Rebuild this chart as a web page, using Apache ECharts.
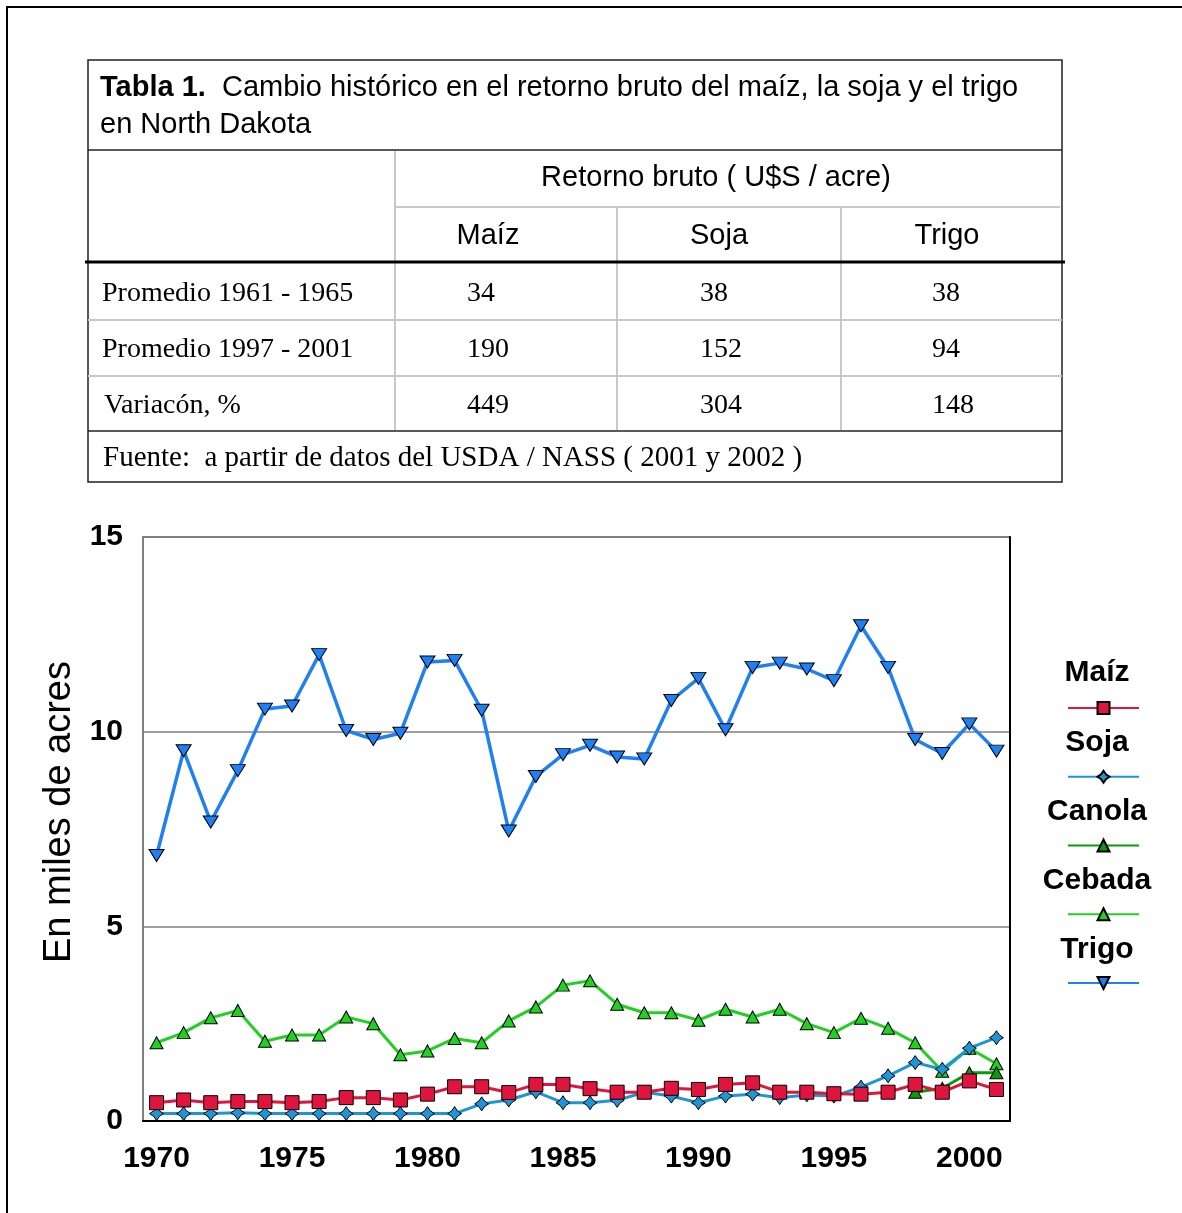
<!DOCTYPE html>
<html>
<head>
<meta charset="utf-8">
<script src="https://cdn.jsdelivr.net/npm/echarts@6/dist/echarts.min.js"></script>
<style>
html, body { margin: 0; padding: 0; background: #fff; }
#main { width: 1182px; height: 1213px; }
</style>
</head>
<body>
<div id="main"></div>
<script>
// ---------------- datos de la tabla ----------------
var tableBold = 'Tabla 1.';
var tableTitle = ['Cambio histórico en el retorno bruto del maíz, la soja y el trigo', 'en North Dakota'];
var tableGroup = 'Retorno bruto ( U$S / acre)';
var tableCols = ['Maíz', 'Soja', 'Trigo'];
var tableRows = ['Promedio 1961 - 1965', 'Promedio 1997 - 2001', 'Variacón, %'];
var tableValues = [
	[34, 38, 38],
	[190, 152, 94],
	[449, 304, 148]
];
var tableSource = 'Fuente:  a partir de datos del USDA / NASS ( 2001 y 2002 )';

// ---------------- datos del gráfico ----------------
var years = ['1970', '1971', '1972', '1973', '1974', '1975', '1976', '1977', '1978', '1979',
	'1980', '1981', '1982', '1983', '1984', '1985', '1986', '1987', '1988', '1989',
	'1990', '1991', '1992', '1993', '1994', '1995', '1996', '1997', '1998', '1999',
	'2000', '2001'];
var maiz = [0.47, 0.54, 0.47, 0.50, 0.50, 0.47, 0.50, 0.60, 0.60, 0.54,
	0.69, 0.88, 0.88, 0.73, 0.94, 0.94, 0.83, 0.74, 0.74, 0.84,
	0.81, 0.94, 0.98, 0.74, 0.74, 0.70, 0.69, 0.74, 0.94, 0.74,
	1.03, 0.81];
var soja = [0.19, 0.19, 0.19, 0.21, 0.19, 0.19, 0.19, 0.19, 0.19, 0.19,
	0.19, 0.19, 0.44, 0.54, 0.75, 0.47, 0.47, 0.53, 0.74, 0.64,
	0.47, 0.64, 0.69, 0.60, 0.67, 0.64, 0.87, 1.16, 1.50, 1.33,
	1.87, 2.14];
var canola = [null, null, null, null, null, null, null, null, null, null,
	null, null, null, null, null, null, null, null, null, null,
	null, null, null, null, null, null, null, null, 0.74, 0.84,
	1.24, 1.24];
var cebada = [2.01, 2.27, 2.65, 2.84, 2.05, 2.21, 2.21, 2.67, 2.50, 1.70,
	1.80, 2.12, 2.01, 2.57, 2.93, 3.49, 3.60, 3.00, 2.78, 2.78,
	2.59, 2.87, 2.67, 2.87, 2.50, 2.27, 2.64, 2.38, 2.01, 1.28,
	1.87, 1.47];
var trigo = [6.82, 9.51, 7.68, 9.00, 10.58, 10.66, 11.98, 10.03, 9.80, 9.96,
	11.79, 11.83, 10.55, 7.45, 8.85, 9.41, 9.65, 9.35, 9.30, 10.80,
	11.37, 10.05, 11.65, 11.76, 11.61, 11.31, 12.72, 11.65, 9.80, 9.44,
	10.20, 9.50];
var seriesNames = ['Maíz', 'Soja', 'Canola', 'Cebada', 'Trigo'];
var yTitle = 'En miles de acres';

// ---------------- estilos ----------------
var SANS = '"Liberation Sans", Arial, sans-serif';
var SERIF = '"Liberation Serif", "Times New Roman", serif';
var seriesData = [maiz, soja, canola, cebada, trigo];
var seriesColors = ['#E0153D', '#1D95D6', '#0A9A0A', '#22D022', '#1E80F2'];
var starPath = 'path://M0,-10 L4,-4 L10,0 L4,4 L0,10 L-4,4 L-10,0 L-4,-4 Z';
var seriesSymbols = ['rect', starPath, 'triangle', 'triangle', 'triangle'];
var seriesSymbolSize = [14, 14, [13, 12], [13, 12], [15, 12]];
var seriesRotate = [0, 0, 0, 0, 180];
var seriesWidth = [3, 3, 3, 3, 3.5];

var myChart = echarts.init(document.getElementById('main'));

// ---------------- tabla (graphic) ----------------
var g = [];
function addLine(x1, y1, x2, y2, color, w) {
	g.push({ type: 'line', silent: true, shape: { x1: x1, y1: y1, x2: x2, y2: y2 }, style: { stroke: color, lineWidth: w } });
}
function addText(x, y, str, font, align, extra) {
	var st = { text: str, font: font, fill: '#000', align: align || 'left', textAlign: align || 'left', verticalAlign: 'middle', textVerticalAlign: 'middle' };
	if (extra) { for (var k in extra) st[k] = extra[k]; }
	g.push({ type: 'text', silent: true, x: x, y: y, style: st });
}

// marco exterior de la figura
g.push({ type: 'rect', silent: true, shape: { x: 7, y: 7, width: 1200, height: 1230 }, style: { fill: 'none', stroke: '#000', lineWidth: 2 } });

var tx0 = 88, tx1 = 1062;
var colLines = [395, 617, 841];
var colHeadX = [488, 719, 947];
var colValX = [467, 700, 932];
var rowY = [294, 350, 406];

// bordes y líneas de la tabla
g.push({ type: 'rect', silent: true, shape: { x: tx0, y: 60, width: tx1 - tx0, height: 422 }, style: { fill: 'none', stroke: '#222', lineWidth: 1.5 } });
addLine(tx0, 150, tx1, 150, '#222', 1.5);
addLine(colLines[0], 207, tx1 - 2, 207, '#c8c8c8', 2);
addLine(colLines[0], 151, colLines[0], 430, '#c8c8c8', 2);
addLine(colLines[1], 207, colLines[1], 430, '#c8c8c8', 2);
addLine(colLines[2], 207, colLines[2], 430, '#c8c8c8', 2);
addLine(85, 262, 1065, 262, '#000', 3);
addLine(tx0, 320, tx1, 320, '#c8c8c8', 2);
addLine(tx0, 376, tx1, 376, '#c8c8c8', 2);
addLine(tx0, 431, tx1, 431, '#222', 1.5);

// textos de la tabla
addText(100, 88, '{b|' + tableBold + '}  ' + tableTitle[0], '29px ' + SANS, 'left', { rich: { b: { font: 'bold 29px ' + SANS, fill: '#000' } } });
addText(100, 125, tableTitle[1], '29px ' + SANS);
addText(716, 178, tableGroup, '29px ' + SANS, 'center');
tableCols.forEach(function (c, i) { addText(colHeadX[i], 236, c, '29px ' + SANS, 'center'); });
tableRows.forEach(function (r, i) {
	addText(i === 2 ? 104 : 102, rowY[i], r, '28px ' + SERIF);
	tableValues[i].forEach(function (v, j) { addText(colValX[j], rowY[i], String(v), '28px ' + SERIF); });
});
addText(103, 458, tableSource, '29px ' + SERIF);

// título eje Y
g.push({ type: 'text', silent: true, x: 60, y: 812, rotation: Math.PI / 2,
	style: { text: yTitle, font: '38px ' + SANS, fill: '#000', align: 'center', textAlign: 'center', verticalAlign: 'middle', textVerticalAlign: 'middle' } });

// nombres de la leyenda (el símbolo lo dibuja la leyenda de ECharts)
seriesNames.forEach(function (n, i) {
	addText(1097, 673 + i * 69.25, n, 'bold 30px ' + SANS, 'center');
});

// ---------------- series ----------------
var series = [];
for (var i = seriesNames.length - 1; i >= 0; i--) {
	series.push({
		name: seriesNames[i],
		type: 'line',
		data: seriesData[i],
		symbol: seriesSymbols[i],
		symbolSize: seriesSymbolSize[i],
		symbolRotate: seriesRotate[i],
		showAllSymbol: true,
		connectNulls: false,
		lineStyle: { color: seriesColors[i], width: seriesWidth[i] },
		itemStyle: { color: seriesColors[i], borderColor: '#000', borderWidth: 1 },
		emphasis: { disabled: true },
		z: 2 + (seriesNames.length - i)
	});
}

var option = {
	animation: false,
	tooltip: { show: false },
	grid: { left: 143, right: 172, top: 537, bottom: 92, show: true, borderColor: '#808080', borderWidth: 2 },
	legend: {
		orient: 'vertical',
		left: 1062,
		top: 695.5,
		itemWidth: 71,
		itemHeight: 15,
		itemGap: 54.25,
		data: seriesNames,
		selectedMode: false,
		formatter: function () { return ''; },
		textStyle: { fontSize: 1 }
	},
	xAxis: {
		type: 'category',
		data: years,
		boundaryGap: true,
		axisLine: { lineStyle: { color: '#000', width: 2 } },
		axisTick: { alignWithLabel: true, interval: 0, length: 10, lineStyle: { color: '#000', width: 2 } },
		axisLabel: {
			interval: function (idx, val) { return Number(val) % 5 === 0; },
			margin: 23,
			color: '#000',
			fontFamily: SANS,
			fontSize: 30,
			fontWeight: 'bold'
		},
		splitLine: { show: false }
	},
	yAxis: [{
		type: 'value',
		min: 0,
		max: 15,
		interval: 5,
		axisLine: { show: true, lineStyle: { color: '#808080', width: 2 } },
		axisTick: { show: false },
		axisLabel: { margin: 20, color: '#000', fontFamily: SANS, fontSize: 30, fontWeight: 'bold' },
		splitLine: { lineStyle: { color: '#808080', width: 1.5 } }
	}, {
		type: 'value',
		position: 'right',
		min: 0,
		max: 15,
		interval: 5,
		axisLine: { show: true, lineStyle: { color: '#000', width: 2 } },
		axisTick: { show: false },
		axisLabel: { show: false },
		splitLine: { show: false }
	}],
	series: series,
	graphic: { elements: g }
};
myChart.setOption(option);
</script>
</body>
</html>
